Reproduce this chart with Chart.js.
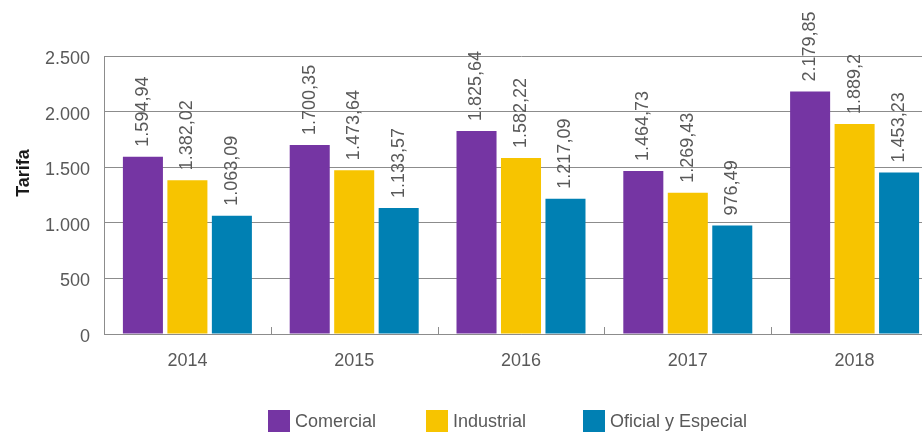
<!DOCTYPE html>
<html>
<head>
<meta charset="utf-8">
<script src="https://cdn.jsdelivr.net/npm/chart.js@4.4.1/dist/chart.umd.min.js"></script>
<style>
  html, body { margin: 0; padding: 0; background: #fff; overflow: hidden; }
  #wrap { width: 922px; height: 433px; overflow: hidden; }
</style>
</head>
<body>
<div id="wrap"><canvas id="tarifaChart" width="938" height="433"></canvas></div>
<script>
// datos del gráfico
const years = ['2014', '2015', '2016', '2017', '2018'];
const comercial = [1594.94, 1700.35, 1825.64, 1464.73, 2179.85];
const industrial = [1382.02, 1473.64, 1582.22, 1269.43, 1889.2];
const oficial = [1063.09, 1133.57, 1217.09, 976.49, 1453.23];
const yTicks = [0, 500, 1000, 1500, 2000, 2500];
const seriesNames = ['Comercial', 'Industrial', 'Oficial y Especial'];
const seriesColors = ['#7535A3', '#F7C400', '#0080B3'];

const grey = '#595959';
const lineGrey = '#8c8c8c';
const font = 'Liberation Sans, Arial, sans-serif';

// 1594.94 -> "1.594,94"
function fmt(v) {
    const parts = String(v).split('.');
    const ent = parts[0].replace(/\B(?=(\d{3})+(?!\d))/g, '.');
    return parts.length > 1 ? ent + ',' + parts[1] : ent;
}

// etiquetas giradas, marcas del eje x, titulo del eje y y leyenda
const extras = {
    id: 'extras',
    afterDatasetsDraw(chart) {
        const ctx = chart.ctx;
        const area = chart.chartArea;
        const xs = chart.scales.x;

        ctx.save();
        ctx.font = '18px ' + font;
        ctx.fillStyle = grey;
        ctx.textAlign = 'left';
        ctx.textBaseline = 'middle';
        chart.data.datasets.forEach((ds, i) => {
            chart.getDatasetMeta(i).data.forEach((bar, j) => {
                ctx.save();
                ctx.translate(bar.x, bar.y - 10);
                ctx.rotate(-Math.PI / 2);
                ctx.fillText(fmt(ds.data[j]), 0, 0);
                ctx.restore();
            });
        });

        // marcas pequeñas entre categorias
        ctx.strokeStyle = lineGrey;
        ctx.lineWidth = 1;
        for (let i = 1; i < years.length; i++) {
            const x = Math.round((xs.getPixelForTick(i - 1) + xs.getPixelForTick(i)) / 2) + 0.5;
            ctx.beginPath();
            ctx.moveTo(x, area.bottom);
            ctx.lineTo(x, area.bottom - 7);
            ctx.stroke();
        }

        // titulo eje y
        ctx.save();
        ctx.font = 'bold 18px ' + font;
        ctx.fillStyle = '#1a1a1a';
        ctx.textAlign = 'center';
        ctx.translate(24, (area.top + area.bottom) / 2 - 22);
        ctx.rotate(-Math.PI / 2);
        ctx.fillText('Tarifa', 0, 0);
        ctx.restore();

        // leyenda
        ctx.font = '18px ' + font;
        ctx.textAlign = 'left';
        seriesNames.forEach((name, i) => {
            const bx = 268 + i * 157.5;
            ctx.fillStyle = seriesColors[i];
            ctx.fillRect(Math.round(bx), 410, 22, 22);
            ctx.fillStyle = grey;
            ctx.fillText(name, Math.round(bx) + 27, 422);
        });
        ctx.restore();
    }
};

new Chart(document.getElementById('tarifaChart'), {
    type: 'bar',
    data: {
        labels: years,
        datasets: seriesNames.map((name, i) => ({
            label: name,
            data: [comercial, industrial, oficial][i],
            backgroundColor: seriesColors[i],
            borderWidth: 0,
            categoryPercentage: 0.8,
            barPercentage: 0.9
        }))
    },
    options: {
        responsive: false,
        animation: false,
        devicePixelRatio: 1,
        layout: { padding: { top: 56, left: 0, right: 0, bottom: 0 } },
        plugins: {
            legend: { display: false },
            tooltip: { enabled: false }
        },
        scales: {
            x: {
                grid: { display: false, drawTicks: false },
                border: { display: true, color: lineGrey, width: 1 },
                ticks: { color: grey, font: { size: 18, family: font }, padding: 16 },
                afterFit(s) { s.height = 99; }
            },
            y: {
                min: 0,
                max: 2500,
                afterBuildTicks(s) { s.ticks = yTicks.map(v => ({ value: v })); },
                grid: { color: lineGrey, drawTicks: false },
                border: { display: true, color: lineGrey, width: 1 },
                ticks: {
                    color: grey,
                    font: { size: 18, family: font },
                    padding: 14,
                    labelOffset: 3,
                    callback: v => fmt(v)
                },
                afterFit(s) { s.width = 104; }
            }
        }
    },
    plugins: [extras]
});
</script>
</body>
</html>
